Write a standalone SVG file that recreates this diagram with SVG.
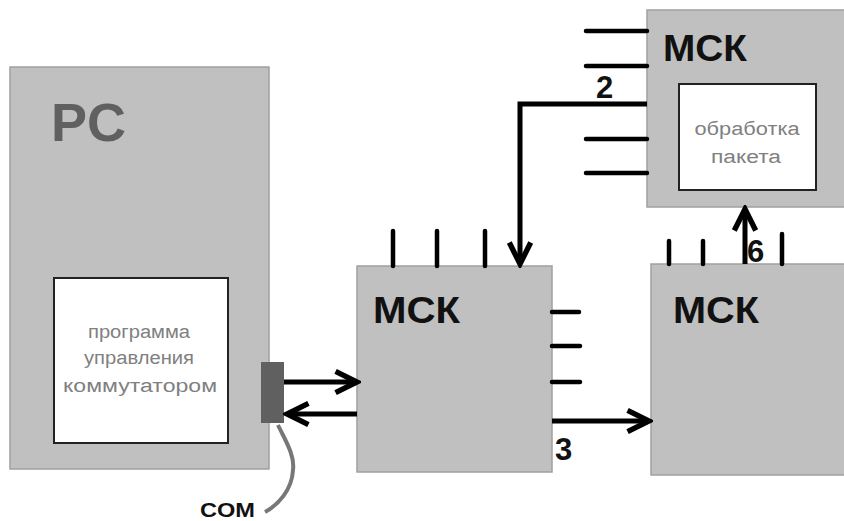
<svg xmlns="http://www.w3.org/2000/svg" width="844" height="521" viewBox="0 0 844 521">
<style>
.box{fill:#c0c0c0;stroke:#a0a0a0;stroke-width:1.5}
.inner{fill:#fff;stroke:#222;stroke-width:2}
.msk{font-family:"Liberation Sans",Arial,sans-serif;font-weight:bold;font-size:36px;fill:#111}
.small{font-family:"Liberation Sans",Arial,sans-serif;font-size:18px;fill:#808080;text-anchor:middle}
.num{font-family:"Liberation Sans",Arial,sans-serif;font-weight:bold;font-size:31px;fill:#111}
.w{stroke:#000;stroke-width:5;fill:none}
.t{stroke:#000;stroke-width:4.5;fill:none;stroke-linecap:round}
</style>
<defs>
<marker id="ah" markerUnits="userSpaceOnUse" markerWidth="30" markerHeight="30" viewBox="-24 -14 28 28" refX="0" refY="0" orient="auto">
<path d="M-20,-10 L0,0 L-20,10" fill="none" stroke="#000" stroke-width="5"/>
</marker>
</defs>
<g id="pc">
<rect class="box" x="10" y="67" width="259" height="402"/>
<text x="51" y="141" font-family="Liberation Sans,Arial,sans-serif" font-weight="bold" font-size="54" fill="#606060">PC</text>
<rect class="inner" x="54" y="278" width="174" height="165"/>
<text class="small" x="139" y="338" textLength="102" lengthAdjust="spacingAndGlyphs">программа</text>
<text class="small" x="139" y="364" textLength="110" lengthAdjust="spacingAndGlyphs">управления</text>
<text class="small" x="140" y="392" textLength="154" lengthAdjust="spacingAndGlyphs">коммутатором</text>
</g>
<g id="com">
<path d="M278,425 C285,440 295,455 293,470 C292,490 278,505 265,512" fill="none" stroke="#777" stroke-width="4"/>
<rect x="261" y="362" width="23" height="61" fill="#606060"/>
<text x="200" y="517" font-family="Liberation Sans,Arial,sans-serif" font-weight="bold" font-size="20" fill="#111" textLength="55" lengthAdjust="spacingAndGlyphs">COM</text>
</g>
<g id="msk-center">
<rect class="box" x="357" y="266" width="195" height="206"/>
<text class="msk" x="373" y="323" textLength="87" lengthAdjust="spacingAndGlyphs">МСК</text>
</g>
<g id="msk-top">
<rect class="box" x="647" y="10" width="200" height="197"/>
<text class="msk" x="663" y="61" textLength="84" lengthAdjust="spacingAndGlyphs">МСК</text>
<rect class="inner" x="679" y="84" width="137" height="106"/>
<text class="small" x="747" y="135" textLength="105" lengthAdjust="spacingAndGlyphs">обработка</text>
<text class="small" x="746" y="163" textLength="70" lengthAdjust="spacingAndGlyphs">пакета</text>
</g>
<g id="msk-right">
<rect class="box" x="651" y="264" width="200" height="211"/>
<text class="msk" x="673" y="323" textLength="86" lengthAdjust="spacingAndGlyphs">МСК</text>
</g>
<g id="connectors">
<line class="t" x1="393" y1="231" x2="393" y2="266"/>
<line class="t" x1="437" y1="231" x2="437" y2="266"/>
<line class="t" x1="485" y1="231" x2="485" y2="266"/>
<line class="t" x1="552" y1="312" x2="579" y2="312"/>
<line class="t" x1="552" y1="346" x2="580" y2="346"/>
<line class="t" x1="552" y1="382" x2="580" y2="382"/>
<line class="t" x1="586" y1="31" x2="647" y2="31"/>
<line class="t" x1="586" y1="66" x2="647" y2="66"/>
<line class="t" x1="586" y1="139" x2="647" y2="139"/>
<line class="t" x1="586" y1="173" x2="647" y2="173"/>
<line class="t" x1="669" y1="241" x2="669" y2="264"/>
<line class="t" x1="703" y1="241" x2="703" y2="264"/>
<line class="t" x1="782" y1="234" x2="782" y2="264"/>
<path class="w" d="M647,104 H520 V264" marker-end="url(#ah)"/>
<line class="w" x1="284" y1="382" x2="357" y2="382" marker-end="url(#ah)"/>
<line class="w" x1="357" y1="414" x2="287" y2="414" marker-end="url(#ah)"/>
<line class="w" x1="552" y1="421" x2="649" y2="421" marker-end="url(#ah)"/>
<line class="w" x1="745" y1="264" x2="745" y2="209" marker-end="url(#ah)"/>
<text class="num" x="596" y="98">2</text>
<text class="num" x="555" y="460">3</text>
<text class="num" x="747" y="262">6</text>
</g>
</svg>
